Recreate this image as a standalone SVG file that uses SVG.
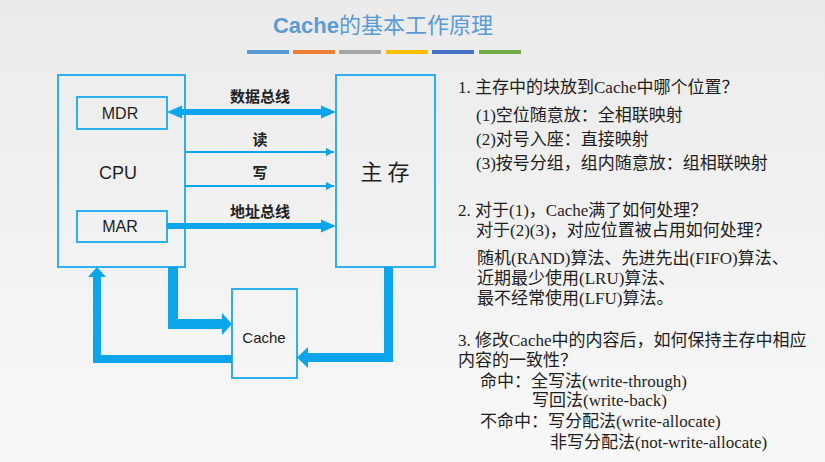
<svg xmlns="http://www.w3.org/2000/svg" width="825" height="462" viewBox="0 0 825 462">
<defs>
<linearGradient id="bg" x1="0" y1="0" x2="0" y2="1">
<stop offset="0" stop-color="#ebebeb"/>
<stop offset="1" stop-color="#f8f8f8"/>
</linearGradient>
<marker id="thin" viewBox="0 0 8 8" refX="8" refY="4" markerWidth="4" markerHeight="4" orient="auto" markerUnits="strokeWidth">
<path d="M0,0 L8,4 L0,8 Z" fill="#0aa5ea"/>
</marker>
<style>
.box{fill:none;stroke:#2fb0ee;stroke-width:2}
.arrow{fill:#0aa5ea}
.line{stroke:#0aa5ea;stroke-width:2;fill:none}
.sans{font-family:"Liberation Sans","Noto Sans CJK SC",sans-serif;fill:#1e1e1e}
.lbl{font-family:"Noto Sans CJK SC",sans-serif;font-weight:bold;font-size:15px;fill:#222;text-anchor:middle}
.txt{font-family:"Liberation Serif","Noto Sans CJK SC",serif;font-size:17px;fill:#1e1e1e}
</style>
</defs>
<rect width="825" height="462" fill="url(#bg)"/>

<g id="title">
<text x="383" y="33" text-anchor="middle" font-size="22" fill="#5b9bd5" font-family="'Liberation Sans','Noto Sans CJK SC',sans-serif"><tspan font-weight="bold">Cache</tspan>的基本工作原理</text>
<rect x="247" y="50" width="42" height="4" fill="#5b9bd5"/>
<rect x="293" y="50" width="42" height="4" fill="#ed7d31"/>
<rect x="339" y="50" width="42" height="4" fill="#a5a5a5"/>
<rect x="386" y="50" width="42" height="4" fill="#ffc000"/>
<rect x="432" y="50" width="42" height="4" fill="#4472c4"/>
<rect x="479" y="50" width="42" height="4" fill="#70ad47"/>
</g>

<g id="cpu">
<rect class="box" x="58" y="75" width="127" height="192"/>
<text class="sans" x="118" y="179" font-size="18" text-anchor="middle">CPU</text>
</g>
<g id="mdr">
<rect class="box" x="77" y="97" width="90" height="32"/>
<text class="sans" x="120" y="119" font-size="16" text-anchor="middle">MDR</text>
</g>
<g id="mar">
<rect class="box" x="77" y="211" width="90" height="31"/>
<text class="sans" x="120" y="232" font-size="16" text-anchor="middle">MAR</text>
</g>
<g id="mainmem">
<rect class="box" x="336" y="75" width="99" height="192"/>
<text x="385" y="180" font-size="22" text-anchor="middle" fill="#1e1e1e" font-family="'Noto Sans CJK SC',serif">主 存</text>
</g>
<g id="cache">
<rect class="box" x="232" y="289" width="65" height="89"/>
<text class="sans" x="264" y="343" font-size="15" text-anchor="middle">Cache</text>
</g>

<g id="connectors">
<path class="arrow" d="M167,112 L182,105.5 L182,109 L321,109 L321,105.5 L336,112 L321,118.5 L321,115 L182,115 L182,118.5 Z"/>
<line class="line" x1="185" y1="152" x2="334" y2="152" marker-end="url(#thin)"/>
<line class="line" x1="185" y1="186" x2="334" y2="186" marker-end="url(#thin)"/>
<path class="arrow" d="M167,223 L321,223 L321,219.5 L336,226 L321,232.5 L321,229 L167,229 Z"/>
<path class="arrow" d="M168,267 L178,267 L178,319 L222,319 L222,313 L232,324 L222,335 L222,329 L168,329 Z"/>
<path class="arrow" d="M232,355 L101,355 L101,277 L106,277 L97,267 L88,277 L93,277 L93,363 L232,363 Z"/>
<path class="arrow" d="M384,267 L393,267 L393,362 L308,362 L308,368 L297,357.5 L308,347 L308,353 L384,353 Z"/>
<text class="lbl" x="260" y="102">数据总线</text>
<text class="lbl" x="260" y="145">读</text>
<text class="lbl" x="260" y="178">写</text>
<text class="lbl" x="260" y="217">地址总线</text>
</g>

<g id="notes">
<text class="txt" x="458" y="93">1. 主存中的块放到Cache中哪个位置？</text>
<text class="txt" x="476" y="121">(1)空位随意放：全相联映射</text>
<text class="txt" x="476" y="145">(2)对号入座：直接映射</text>
<text class="txt" x="476" y="169">(3)按号分组，组内随意放：组相联映射</text>
<text class="txt" x="458" y="216">2. 对于(1)，Cache满了如何处理？</text>
<text class="txt" x="476" y="236">对于(2)(3)，对应位置被占用如何处理？</text>
<text class="txt" x="477" y="264">随机(RAND)算法、先进先出(FIFO)算法、</text>
<text class="txt" x="477" y="284">近期最少使用(LRU)算法、</text>
<text class="txt" x="477" y="304">最不经常使用(LFU)算法。</text>
<text class="txt" x="458" y="346">3. 修改Cache中的内容后，如何保持主存中相应</text>
<text class="txt" x="458" y="366">内容的一致性？</text>
<text class="txt" x="480" y="387">命中：全写法(write-through)</text>
<text class="txt" x="532" y="406">写回法(write-back)</text>
<text class="txt" x="480" y="427">不命中：写分配法(write-allocate)</text>
<text class="txt" x="550" y="448">非写分配法(not-write-allocate)</text>
</g>
</svg>
